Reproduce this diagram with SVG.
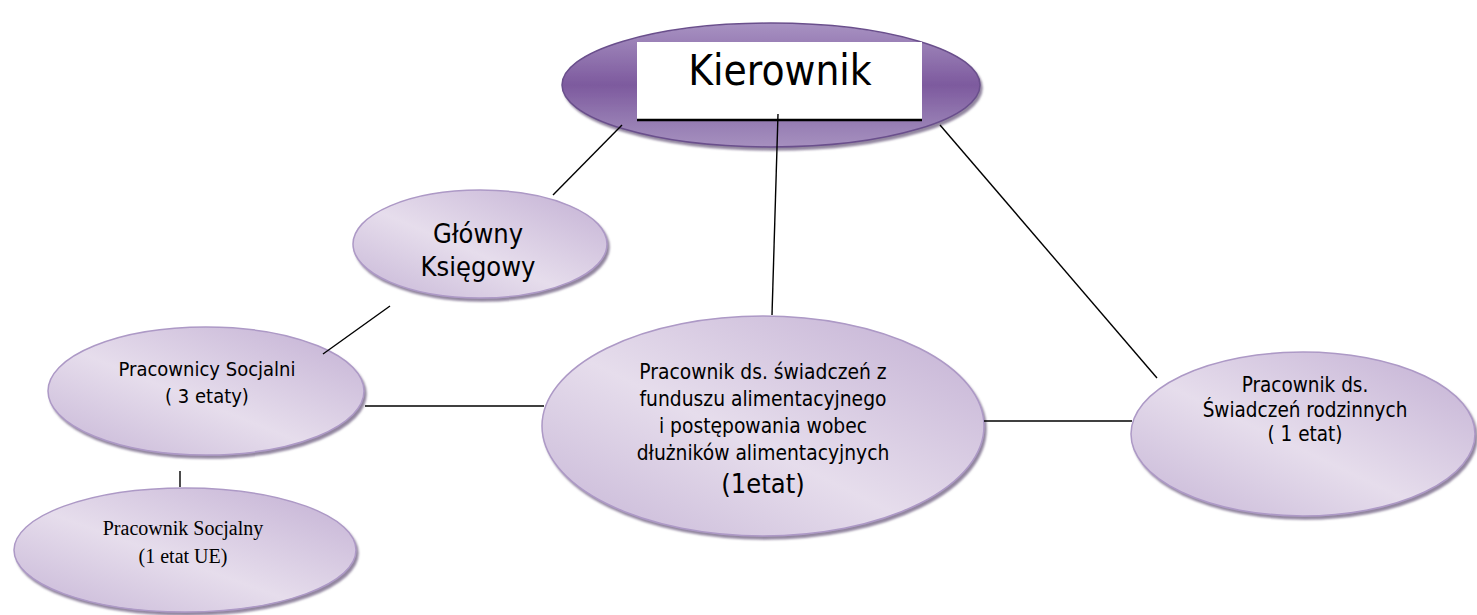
<svg xmlns="http://www.w3.org/2000/svg" width="1477" height="615" viewBox="0 0 1477 615">
<defs>
<linearGradient id="light" x1="0" y1="1" x2="1" y2="0">
<stop offset="0" stop-color="#c6b5d6"/>
<stop offset="0.45" stop-color="#e6ddec"/>
<stop offset="1" stop-color="#c2afd3"/>
</linearGradient>
<linearGradient id="dark" x1="0" y1="0" x2="0" y2="1">
<stop offset="0" stop-color="#a892c2"/>
<stop offset="0.5" stop-color="#7d5a9e"/>
<stop offset="0.85" stop-color="#9a82b6"/>
<stop offset="1" stop-color="#a690bf"/>
</linearGradient>
<filter id="sh" x="-10%" y="-10%" width="125%" height="130%">
<feGaussianBlur in="SourceAlpha" stdDeviation="1.2"/>
<feOffset dx="2" dy="3" result="b"/>
<feFlood flood-color="#6e5e80" flood-opacity="0.75"/>
<feComposite in2="b" operator="in"/>
<feMerge><feMergeNode/><feMergeNode in="SourceGraphic"/></feMerge>
</filter>
</defs>
<style>
.n{fill:url(#light);stroke:#ad99c6;stroke-width:1.5;filter:url(#sh)}
.k{fill:url(#dark);stroke:#6a4f8c;stroke-width:1.5;filter:url(#sh)}
.t{font-family:"DejaVu Sans Condensed","DejaVu Sans",sans-serif;fill:#000;text-anchor:middle}
.s{font-family:"Liberation Serif","Times New Roman",serif;fill:#000;text-anchor:middle}
.c line{stroke:#000;stroke-width:1.4}
</style>
<g id="kierownik">
<ellipse class="k" cx="771" cy="85" rx="209" ry="62"/>
<rect x="637" y="42" width="285" height="79" fill="#fff"/>
<line x1="637" y1="120" x2="922" y2="120" stroke="#000" stroke-width="2.5"/>
<text class="t" x="780" y="85" font-size="42">Kierownik</text>
</g>
<g id="glowny-ksiegowy">
<ellipse class="n" cx="480" cy="244" rx="127" ry="54"/>
<text class="t" x="478" y="243" font-size="27">Główny</text>
<text class="t" x="478" y="276" font-size="27">Księgowy</text>
</g>
<g id="pracownicy-socjalni">
<ellipse class="n" cx="206" cy="391" rx="158" ry="64"/>
<text class="t" x="207" y="376" font-size="20">Pracownicy Socjalni</text>
<text class="t" x="207" y="403" font-size="20">( 3 etaty)</text>
</g>
<g id="pracownik-socjalny">
<ellipse class="n" cx="185" cy="550" rx="171" ry="62"/>
<text class="s" x="183" y="535" font-size="20">Pracownik Socjalny</text>
<text class="s" x="183" y="563" font-size="20">(1 etat UE)</text>
</g>
<g id="pracownik-alimentacyjny">
<ellipse class="n" cx="763" cy="426" rx="221" ry="110"/>
<text class="t" x="763" y="379" font-size="20.8">Pracownik ds. świadczeń z</text>
<text class="t" x="763" y="406" font-size="20.8">funduszu alimentacyjnego</text>
<text class="t" x="763" y="433" font-size="20.8">i postępowania wobec</text>
<text class="t" x="763" y="460" font-size="20.8">dłużników alimentacyjnych</text>
<text class="t" x="763" y="493" font-size="27">(1etat)</text>
</g>
<g id="pracownik-rodzinne">
<ellipse class="n" cx="1303" cy="434" rx="172" ry="82"/>
<text class="t" x="1305" y="392" font-size="20.5">Pracownik ds.</text>
<text class="t" x="1305" y="417" font-size="20.5">Świadczeń rodzinnych</text>
<text class="t" x="1305" y="441" font-size="20.5">( 1 etat)</text>
</g>
<g id="connectors" class="c">
<line x1="622" y1="125" x2="553" y2="195"/>
<line x1="778" y1="114" x2="772" y2="315"/>
<line x1="940" y1="125" x2="1157" y2="378"/>
<line x1="390" y1="306" x2="323" y2="354"/>
<line x1="365" y1="406" x2="544" y2="406"/>
<line x1="984" y1="421" x2="1132" y2="421"/>
<line x1="180" y1="471" x2="180" y2="487"/>
</g>
</svg>
